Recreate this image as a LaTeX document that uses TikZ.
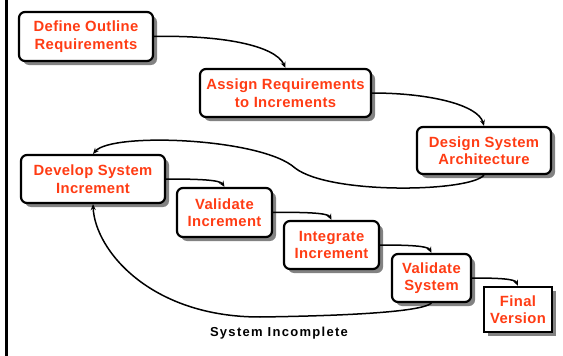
\documentclass[tikz,border=0pt]{standalone}
\usepackage{fontspec}
\newfontfamily\boxfont[LetterSpace=2.5]{Liberation Sans}
\newfontfamily\lblfont[LetterSpace=10]{Liberation Sans}
\usetikzlibrary{shadows,arrows.meta}
\definecolor{txtred}{RGB}{255,60,20}
\definecolor{shgray}{RGB}{130,130,130}
\begin{document}
\begin{tikzpicture}[x=1pt,y=-1pt,
  box/.style={draw=black,line width=2.2pt,rounded corners=6pt,fill=white,
    text=txtred,align=center,font=\boxfont\bfseries\fontsize{14.8}{17.5}\selectfont,inner sep=0pt,
    drop shadow={shadow xshift=4pt,shadow yshift=-4pt,fill=shgray,opacity=1}},
  sqbox/.style={box,rounded corners=0pt},
  conn/.style={line width=1.5pt,-{Stealth[length=6pt,width=5pt]}}]
\useasboundingbox (0,0) rectangle (563,356);
\draw[line width=3pt] (6.5,0) -- (6.5,356);
\node[box,minimum width=134pt,minimum height=49pt] (b1) at (86,36.5) {Define Outline\\Requirements};
\node[box,minimum width=171pt,minimum height=48pt] (b2) at (285.5,93) {Assign Requirements\\to Increments};
\node[box,minimum width=134pt,minimum height=47pt] (b3) at (484,150.5) {Design System\\Architecture};
\node[box,minimum width=144pt,minimum height=48pt] (b4) at (93,179) {Develop System\\Increment};
\node[box,minimum width=95pt,minimum height=49pt] (b5) at (224.5,212.5) {Validate\\Increment};
\node[box,minimum width=95pt,minimum height=48pt] (b6) at (331.5,245) {Integrate\\Increment};
\node[box,minimum width=79pt,minimum height=48pt] (b7) at (431.5,278) {Validate\\System};
\node[sqbox,minimum width=68pt,minimum height=45pt] (b8) at (518,309.5) {Final\\Version};
\node[font=\lblfont\bfseries\fontsize{13}{16}\selectfont,text=black] (lbl) at (279,333) {System Incomplete};
\draw[conn] (b1.east) .. controls (220,35) and (275,45) .. (b2.north);
\draw[conn] (b2.east) .. controls (430,93) and (478,105) .. (b3.north);
\coordinate (m1) at (295,168);
\draw[conn] (b3.south) .. controls (470,192) and (330,195) .. (m1) .. controls (262,138) and (112,132) .. (b4.north);
\draw[conn] (b4.east) .. controls (200,179) and (220,180) .. (b5.north);
\draw[conn] (b5.east) .. controls (305,212) and (328,213) .. (b6.north);
\draw[conn] (b6.east) .. controls (410,245) and (428,246) .. (b7.north);
\draw[conn] (b7.east) .. controls (500,278) and (515,279) .. (b8.north);
\coordinate (m2) at (260,317);
\draw[conn] (b7.south) .. controls (420,313) and (330,316) .. (m2) .. controls (150,317) and (95,250) .. (b4.south);
\end{tikzpicture}
\end{document}
